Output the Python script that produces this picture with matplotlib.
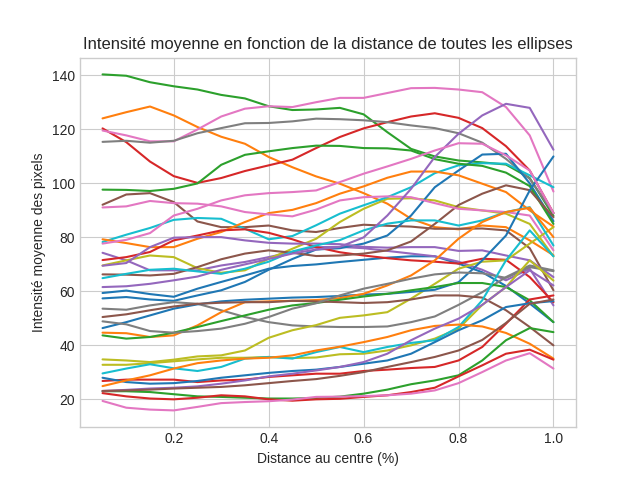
import matplotlib
matplotlib.use("Agg")
import matplotlib.pyplot as plt

# distance au centre (fraction du rayon)
distances = [0.05, 0.10, 0.15, 0.20, 0.25, 0.30, 0.35, 0.40, 0.45, 0.50,
             0.55, 0.60, 0.65, 0.70, 0.75, 0.80, 0.85, 0.90, 0.95, 1.00]

# intensite moyenne par anneau, une liste par ellipse
ell01 = [59.4, 60.3, 59.0, 58.0, 61.0, 63.5, 65.9, 68.4, 69.4, 70.0, 70.9, 71.7, 72.5, 73.0, 73.0, 70.3, 67.1, 62.0, 55.5, 48.6]
ell02 = [124.1, 126.4, 128.5, 125.2, 120.9, 117.3, 114.7, 109.8, 106.0, 102.6, 99.9, 96.4, 92.5, 86.9, 83.8, 83.0, 84.4, 83.8, 78.9, 73.4]
ell03 = [140.4, 139.9, 137.5, 136.0, 134.8, 132.8, 131.5, 128.6, 127.2, 127.4, 128.0, 125.6, 119.0, 112.8, 110.0, 108.5, 107.8, 107.0, 102.0, 88.0]
ell04 = [120.4, 115.3, 108.1, 102.7, 100.2, 102.0, 104.6, 106.7, 108.8, 113.1, 117.2, 120.4, 122.7, 124.8, 126.0, 124.3, 120.5, 113.8, 104.8, 89.0]
ell05 = [74.3, 71.5, 67.8, 67.8, 67.8, 69.6, 70.9, 72.7, 74.6, 76.4, 76.5, 76.0, 75.0, 74.0, 73.0, 71.0, 68.0, 64.1, 68.4, 54.8]
ell06 = [92.1, 95.9, 96.4, 93.1, 85.9, 83.8, 83.8, 84.4, 82.6, 82.0, 83.5, 84.7, 84.3, 84.0, 83.2, 83.2, 83.3, 82.6, 76.0, 60.4]
ell07 = [119.6, 117.8, 115.6, 115.6, 120.0, 124.8, 127.7, 128.6, 128.3, 130.1, 131.7, 131.7, 133.5, 135.3, 135.4, 134.8, 133.8, 128.3, 117.8, 97.0]
ell08 = [115.4, 115.8, 115.1, 115.8, 118.6, 120.5, 122.3, 122.4, 123.0, 124.0, 123.8, 123.4, 122.7, 121.5, 120.5, 118.6, 115.1, 109.1, 101.7, 89.0]
ell09 = [69.6, 71.5, 73.3, 72.7, 68.6, 66.9, 67.8, 72.1, 75.8, 79.5, 85.7, 90.6, 94.3, 94.5, 93.7, 91.2, 90.0, 88.8, 85.0, 73.0]
ell10 = [78.3, 81.0, 83.5, 86.5, 87.2, 86.9, 83.2, 79.3, 80.5, 84.5, 88.8, 91.9, 94.9, 98.6, 103.8, 106.7, 107.5, 107.3, 103.0, 98.6]
ell11 = [57.4, 57.9, 57.0, 56.5, 58.5, 60.4, 63.5, 68.0, 72.0, 75.5, 76.0, 77.7, 80.7, 88.1, 98.6, 104.8, 110.7, 111.0, 100.0, 86.0]
ell12 = [79.3, 77.9, 76.4, 76.4, 79.5, 82.0, 85.7, 89.0, 90.2, 92.7, 96.2, 98.9, 102.1, 104.4, 104.4, 103.0, 99.9, 96.8, 90.0, 84.0]
ell13 = [97.7, 97.6, 97.2, 98.0, 100.0, 106.9, 110.6, 111.9, 113.1, 114.0, 113.9, 113.1, 113.0, 112.2, 109.0, 107.3, 106.5, 104.0, 99.0, 85.0]
ell14 = [71.6, 72.7, 74.6, 78.9, 80.7, 82.6, 83.0, 81.7, 79.3, 76.4, 74.5, 73.3, 72.3, 71.5, 71.0, 70.3, 72.1, 71.7, 65.3, 56.0]
ell15 = [69.5, 70.5, 76.4, 79.9, 80.1, 80.1, 78.9, 78.0, 77.7, 77.7, 77.5, 76.5, 76.2, 76.4, 76.4, 75.0, 75.2, 73.3, 71.5, 65.3]
ell16 = [66.3, 66.2, 65.9, 66.5, 69.0, 71.9, 74.0, 75.2, 74.3, 73.1, 73.3, 74.0, 75.2, 78.5, 85.0, 92.0, 96.2, 99.3, 97.5, 87.5]
ell17 = [91.1, 91.5, 93.5, 92.7, 92.5, 91.5, 89.4, 88.5, 87.8, 90.3, 93.7, 94.9, 95.2, 94.9, 92.7, 90.6, 90.0, 89.4, 88.1, 75.2]
ell18 = [53.6, 53.2, 54.8, 56.0, 55.4, 53.0, 50.5, 48.6, 47.4, 47.0, 46.8, 46.8, 47.0, 48.6, 50.7, 55.0, 59.7, 65.3, 69.6, 67.8]
ell19 = [34.8, 34.4, 33.8, 34.7, 35.9, 36.3, 38.1, 42.8, 45.6, 47.5, 50.2, 51.1, 52.3, 57.3, 62.8, 68.4, 71.0, 71.5, 77.7, 83.8]
ell20 = [64.9, 66.5, 68.0, 68.4, 67.4, 66.5, 68.4, 71.0, 74.8, 77.0, 79.0, 82.6, 85.1, 86.3, 86.3, 84.4, 86.3, 89.4, 91.2, 77.0]
ell21 = [46.4, 48.6, 51.1, 53.6, 55.2, 56.3, 56.9, 57.3, 57.7, 57.9, 58.3, 58.8, 59.1, 59.8, 60.6, 63.4, 71.5, 80.7, 97.4, 110.0]
ell22 = [44.7, 44.5, 43.1, 43.7, 47.4, 52.3, 56.0, 56.3, 56.5, 56.8, 57.5, 59.1, 62.2, 65.9, 71.5, 79.5, 85.7, 89.4, 91.0, 80.1]
ell23 = [43.7, 42.5, 43.1, 44.7, 46.8, 49.0, 51.1, 53.2, 54.8, 55.7, 56.9, 58.1, 59.1, 60.4, 61.6, 63.1, 63.1, 61.6, 56.7, 48.6]
ell24 = [26.8, 27.3, 27.3, 27.3, 26.4, 27.0, 27.3, 28.3, 28.9, 29.5, 29.5, 30.5, 31.0, 31.6, 32.0, 34.4, 39.4, 48.0, 57.0, 58.5]
ell25 = [61.6, 61.9, 62.8, 64.1, 65.5, 68.0, 70.0, 72.0, 74.0, 75.5, 76.5, 80.0, 88.1, 98.0, 109.8, 118.4, 125.2, 129.5, 128.0, 112.5]
ell26 = [50.5, 51.5, 53.0, 54.4, 55.4, 55.8, 56.0, 56.0, 56.5, 56.3, 56.0, 55.7, 56.0, 57.0, 58.5, 58.5, 57.7, 53.0, 46.8, 40.0]
ell27 = [77.7, 79.1, 81.6, 88.1, 90.6, 93.7, 95.6, 96.4, 96.8, 97.4, 100.5, 103.6, 106.3, 109.1, 112.2, 114.9, 114.7, 110.4, 104.8, 89.0]
ell28 = [48.9, 47.8, 45.3, 44.7, 45.3, 46.2, 48.0, 50.5, 53.6, 55.6, 58.5, 61.0, 62.8, 64.7, 66.3, 67.0, 66.7, 65.0, 69.0, 67.5]
ell29 = [32.8, 32.8, 33.4, 34.1, 34.8, 35.4, 35.4, 35.7, 35.3, 35.5, 36.7, 36.9, 38.1, 40.0, 42.5, 46.2, 55.0, 61.6, 71.5, 64.0]
ell30 = [29.6, 31.4, 33.0, 31.5, 30.5, 32.0, 35.1, 35.7, 35.1, 37.5, 39.4, 37.5, 39.4, 40.9, 41.9, 46.8, 56.7, 71.5, 82.6, 73.0]
ell31 = [28.0, 26.4, 25.8, 26.0, 26.8, 28.0, 28.9, 29.8, 30.5, 31.0, 32.0, 33.2, 34.4, 36.9, 41.2, 45.6, 49.3, 54.2, 55.6, 56.4]
ell32 = [24.9, 27.0, 28.9, 31.4, 33.4, 34.4, 35.1, 35.4, 36.3, 38.1, 39.5, 41.2, 43.1, 45.6, 47.2, 47.7, 47.0, 44.6, 40.6, 35.1]
ell33 = [23.0, 23.0, 22.7, 21.9, 21.1, 20.9, 20.6, 20.3, 20.3, 20.5, 21.0, 22.1, 23.6, 25.6, 27.0, 28.9, 34.4, 41.9, 46.4, 44.9]
ell34 = [22.3, 21.1, 20.3, 20.0, 20.6, 21.5, 21.1, 20.0, 19.5, 20.0, 20.2, 20.9, 21.5, 22.7, 24.3, 28.5, 32.6, 36.9, 38.4, 34.7]
ell35 = [23.1, 23.5, 24.0, 24.3, 24.8, 25.8, 27.0, 28.5, 29.5, 30.7, 32.0, 33.8, 36.9, 41.9, 46.2, 49.9, 55.0, 61.6, 67.8, 62.2]
ell36 = [23.1, 23.3, 23.6, 24.0, 24.3, 24.6, 25.2, 26.0, 26.8, 27.5, 28.7, 30.1, 32.0, 33.8, 35.7, 38.1, 42.0, 48.3, 55.4, 57.0]
ell37 = [19.4, 16.9, 16.2, 15.9, 17.2, 18.6, 19.0, 19.3, 19.9, 20.9, 21.0, 21.2, 21.5, 22.1, 23.3, 26.0, 30.1, 34.4, 37.1, 31.4]

ellipses = [ell01, ell02, ell03, ell04, ell05, ell06, ell07, ell08, ell09, ell10,
            ell11, ell12, ell13, ell14, ell15, ell16, ell17, ell18, ell19, ell20,
            ell21, ell22, ell23, ell24, ell25, ell26, ell27, ell28, ell29, ell30,
            ell31, ell32, ell33, ell34, ell35, ell36, ell37]

plt.style.use('seaborn-v0_8-whitegrid')
fig, ax = plt.subplots(figsize=(6.4, 4.8), dpi=100)

for profil in ellipses:
    ax.plot(distances, profil)

ax.set_title("Intensité moyenne en fonction de la distance de toutes les ellipses")
ax.set_xlabel("Distance au centre (%)")
ax.set_ylabel("Intensité moyenne des pixels")

fig.savefig("out.png")
